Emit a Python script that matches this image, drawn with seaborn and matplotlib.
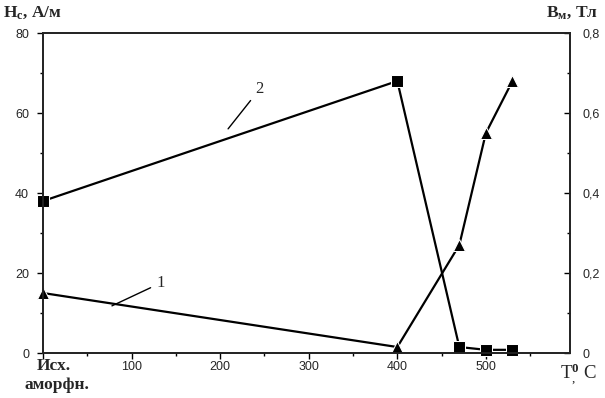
import numpy as np
import pandas as pd
import matplotlib
matplotlib.use("Agg")
import matplotlib.pyplot as plt
import seaborn as sns
from matplotlib.ticker import MultipleLocator, FuncFormatter

# temperatures, C (0 = initial amorphous state)
temps = [0, 400, 470, 500, 530]
# curve 1: triangles (read on left scale, = Bm*100 on right)
curve1 = [15, 1.5, 27, 55, 68]
# curve 2: squares
curve2 = [38, 68, 1.5, 0.8, 0.8]

df = pd.DataFrame({"T": temps * 2,
                   "val": curve1 + curve2,
                   "curve": ["1"] * 5 + ["2"] * 5})

sns.set_style("ticks")
plt.rcParams["font.family"] = ["Liberation Sans", "DejaVu Sans"]
plt.rcParams["mathtext.fontset"] = "custom"
plt.rcParams["mathtext.rm"] = "Liberation Serif"
plt.rcParams["mathtext.bf"] = "Liberation Serif:bold"
plt.rcParams["mathtext.it"] = "Liberation Serif:italic"

fig = plt.figure(figsize=(6.05, 3.98), dpi=100)
ax = fig.add_axes([0.0711, 0.113, 0.8711, 0.804])

sns.lineplot(data=df, x="T", y="val", style="curve", markers={"1": "^", "2": "s"},
             dashes=False, color="black", linewidth=1.6, markersize=8,
             legend=False, ax=ax, clip_on=False)

ax.set_xlim(0, 595)
ax.set_ylim(0, 80)
ax.xaxis.set_major_locator(MultipleLocator(100))
ax.xaxis.set_minor_locator(MultipleLocator(50))
ax.yaxis.set_major_locator(MultipleLocator(20))
ax.yaxis.set_minor_locator(MultipleLocator(10))
ax.xaxis.set_major_formatter(FuncFormatter(lambda v, p: "" if v == 0 else f"{v:.0f}"))
ax.set_xlabel("")
ax.set_ylabel("")
for s in ax.spines.values():
    s.set_linewidth(1.2)
    s.set_color("black")
ax.tick_params(which="both", direction="out", labelsize=9, color="black", width=1)
ax.tick_params(which="major", length=4, pad=2)
ax.tick_params(axis="y", pad=6)
ax.tick_params(which="minor", length=2)
ax.tick_params(axis="y", which="both", right=False)

ax2 = ax.twinx()
ax2.set_ylim(0, 0.8)
ax2.yaxis.set_major_locator(MultipleLocator(0.2))
ax2.yaxis.set_minor_locator(MultipleLocator(0.1))
ax2.yaxis.set_major_formatter(FuncFormatter(lambda v, p: "0" if v == 0 else f"{v:.1f}".replace(".", ",")))
ax2.tick_params(which="both", direction="in", labelsize=9, color="black", width=1)
ax2.tick_params(which="major", length=4, pad=9)
ax2.tick_params(which="minor", length=2)
for s in ax2.spines.values():
    s.set_linewidth(1.2)

serif = ["Liberation Serif", "DejaVu Serif"]
# axis titles
fig.text(3 / 605, 1 - 17 / 398, r"$\mathbf{H_c}$, А/м", fontsize=12.5,
         fontweight="bold", family=serif, va="baseline", ha="left")
fig.text(598 / 605, 1 - 17 / 398, r"$\mathbf{B_м}$, Тл", fontsize=12.5,
         fontweight="bold", family=serif, va="baseline", ha="right")
fig.text(560 / 605, 1 - 379 / 398, r"T$^{\mathbf{0}}_{,}$ C", fontsize=13.5,
         family=serif, va="baseline", ha="left")

fig.text(54 / 605, 1 - 370 / 398, "Исх.", fontsize=12.5, fontweight="bold",
         family=serif, ha="center", va="baseline")
fig.text(57 / 605, 1 - 389 / 398, "аморфн.", fontsize=12.5, fontweight="bold",
         family=serif, ha="center", va="baseline")

# curve labels with leader lines
ax.annotate("1", xy=(75, 11.5), xytext=(128, 15.5), fontsize=12, family=serif,
            ha="left", va="bottom",
            arrowprops=dict(arrowstyle="-", color="black", lw=1))
ax.annotate("2", xy=(207, 55.5), xytext=(240, 64), fontsize=12, family=serif,
            ha="left", va="bottom",
            arrowprops=dict(arrowstyle="-", color="black", lw=1))

fig.savefig("out.png", dpi=100)
